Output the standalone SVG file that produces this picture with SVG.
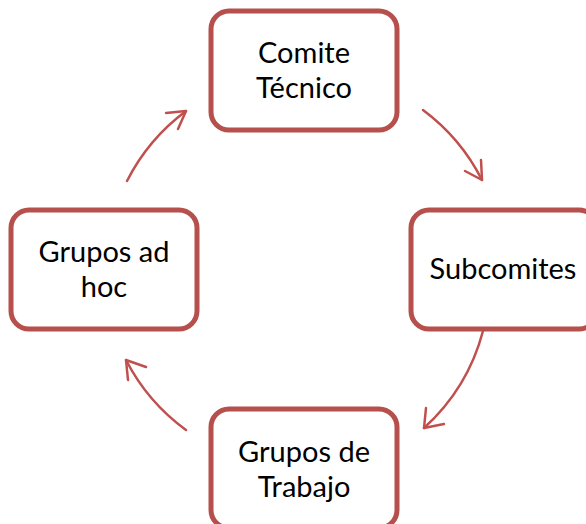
<svg xmlns="http://www.w3.org/2000/svg" width="586" height="524" viewBox="0 0 586 524">
<style>
.box{fill:#fff;stroke:#b5504d;stroke-width:5}
.t{font-family:Lato,"Open Sans",sans-serif;font-size:29px;fill:#000;text-anchor:middle}
.arc{fill:none;stroke:#c0504d;stroke-width:2.5;stroke-linecap:round;stroke-linejoin:round}
</style>
<rect width="586" height="524" fill="#fff"/>
<g id="connectors">
<path class="arc" d="M423,110 A200,200 0 0,1 482,180"/>
<path class="arc" d="M465,171 L482,180 L481,160"/>
<path class="arc" d="M483,331 A200,200 0 0,1 424,428"/>
<path class="arc" d="M426,408 L424,428 L444,424"/>
<path class="arc" d="M186,430 A200,200 0 0,1 126,360"/>
<path class="arc" d="M146,367 L126,360 L128,380"/>
<path class="arc" d="M127,181 A200,200 0 0,1 186,111"/>
<path class="arc" d="M166,113 L186,111 L178,129"/>
</g>
<g id="comite">
<rect class="box" x="211" y="11" width="186" height="119" rx="18"/>
<text class="t" x="304" y="63">Comite</text>
<text class="t" x="304" y="98">Técnico</text>
</g>
<g id="subcomites">
<rect class="box" x="411" y="210" width="186" height="119" rx="18"/>
<text class="t" x="503" y="279">Subcomites</text>
</g>
<g id="trabajo">
<rect class="box" x="211" y="409" width="186" height="119" rx="18"/>
<text class="t" x="304" y="462">Grupos de</text>
<text class="t" x="304" y="497">Trabajo</text>
</g>
<g id="adhoc">
<rect class="box" x="11" y="210" width="186" height="119" rx="18"/>
<text class="t" x="104" y="262">Grupos ad</text>
<text class="t" x="104" y="297">hoc</text>
</g>
</svg>
